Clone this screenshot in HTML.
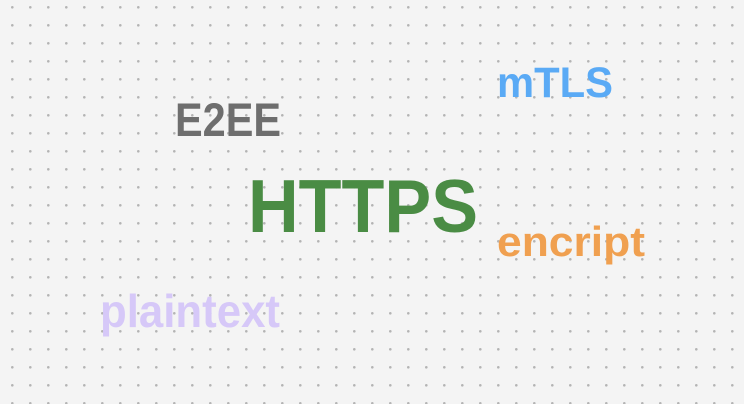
<!DOCTYPE html>
<html><head><meta charset="utf-8"><style>
html,body{margin:0;padding:0;background:#f4f4f4;}
svg{display:block;}
text{font-family:"Liberation Sans",sans-serif;font-weight:bold;}
</style></head><body>
<svg id="c" width="744" height="404" xmlns="http://www.w3.org/2000/svg">
<defs><pattern id="dots" x="11" y="6" width="18" height="18" patternUnits="userSpaceOnUse"><circle cx="1.3" cy="1.3" r="1.3" fill="#b4b4b4"/></pattern></defs>
<rect width="744" height="404" fill="url(#dots)"/>
</svg>
<script>
const words=["HTTPS","E2EE","mTLS","encript","plaintext"];
const weights=[75,47,43,42,46];
const colors=["#4a8c44","#6e6e6e","#5aaaf5","#f0a050","#d6c8f8"];
const xs=[248,175,497,497,100];
const ys=[232,136,97,256,327];
const widths=[230,106,116,148,180];
const svg=document.getElementById('c');
words.forEach((w,i)=>{
  const t=document.createElementNS('http://www.w3.org/2000/svg','text');
  
  
  t.setAttribute('x',xs[i]);t.setAttribute('y',ys[i]);
  t.setAttribute('font-size',weights[i]);
  t.setAttribute('fill',colors[i]);
  t.setAttribute('textLength',widths[i]);
  t.setAttribute('lengthAdjust','spacingAndGlyphs');
  t.textContent=w;
  svg.appendChild(t);
});
</script>
</body></html>
